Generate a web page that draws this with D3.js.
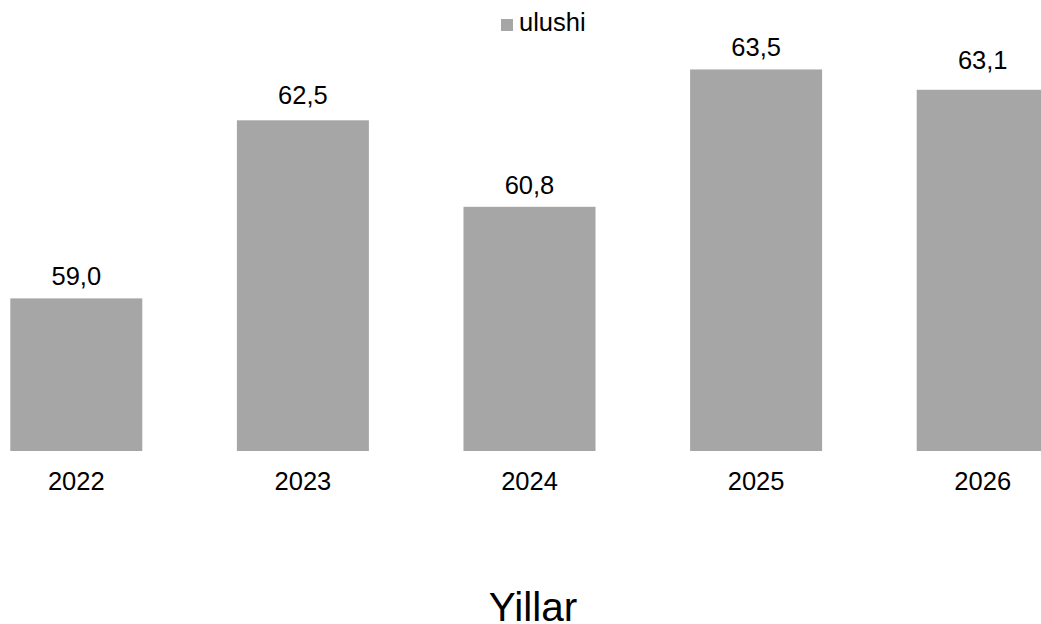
<!DOCTYPE html>
<html>
<head>
<meta charset="utf-8">
<script src="https://cdn.jsdelivr.net/npm/d3@7"></script>
<style>
html,body{margin:0;padding:0;background:#fff;}
svg{display:block;font-family:"Liberation Sans",Arial,sans-serif;}
</style>
</head>
<body>
<svg id="chart" width="1041" height="624"></svg>
<script>
const categories = ["2022","2023","2024","2025","2026"];
const values = [59.0, 62.5, 60.8, 63.5, 63.1];
const seriesName = "ulushi";
const axisTitle = "Yillar";

// layout (label offset above each bar, px)
const labelGap = [13, 16, 13, 13, 21];

const svg = d3.select("#chart");
const barColor = "#a6a6a6";

const x = d3.scaleBand().domain(categories).range([-37, 1096])
  .paddingInner(0.4175).paddingOuter(0.2087);
const y = d3.scaleLinear().domain([56, 64]).range([451, 44]);

const fmt = v => v.toFixed(1).replace(".", ",");

svg.append("g").selectAll("rect").data(values).join("rect")
  .attr("x", (d,i) => x(categories[i]))
  .attr("y", d => y(d))
  .attr("width", x.bandwidth())
  .attr("height", d => y(56) - y(d))
  .attr("fill", barColor);

svg.append("g").selectAll("text").data(values).join("text")
  .attr("x", (d,i) => x(categories[i]) + x.bandwidth()/2)
  .attr("y", (d,i) => y(d) - labelGap[i])
  .attr("text-anchor", "middle")
  .attr("font-size", 25.5)
  .attr("fill", "#000")
  .text(d => fmt(d));

// x axis labels
const xAxis = d3.axisBottom(x).tickSize(0).tickPadding(0);
const gx = svg.append("g").attr("transform", `translate(0,${y(56)})`).call(xAxis);
gx.select(".domain").remove();
gx.selectAll("text")
  .attr("font-size", 25.5)
  .attr("font-family", "Liberation Sans, Arial, sans-serif")
  .attr("fill", "#000")
  .attr("dy", null)
  .attr("y", 39);

// legend
const lg = svg.append("g");
lg.append("rect").attr("x", 501).attr("y", 19).attr("width", 12).attr("height", 12).attr("fill", barColor);
lg.append("text").attr("x", 519).attr("y", 31).attr("font-size", 25.5).attr("fill", "#000").text(seriesName);

// axis title
svg.append("text").attr("x", 533).attr("y", 621).attr("text-anchor", "middle")
  .attr("font-size", 40.5).attr("fill", "#000").text(axisTitle);
</script>
</body>
</html>
